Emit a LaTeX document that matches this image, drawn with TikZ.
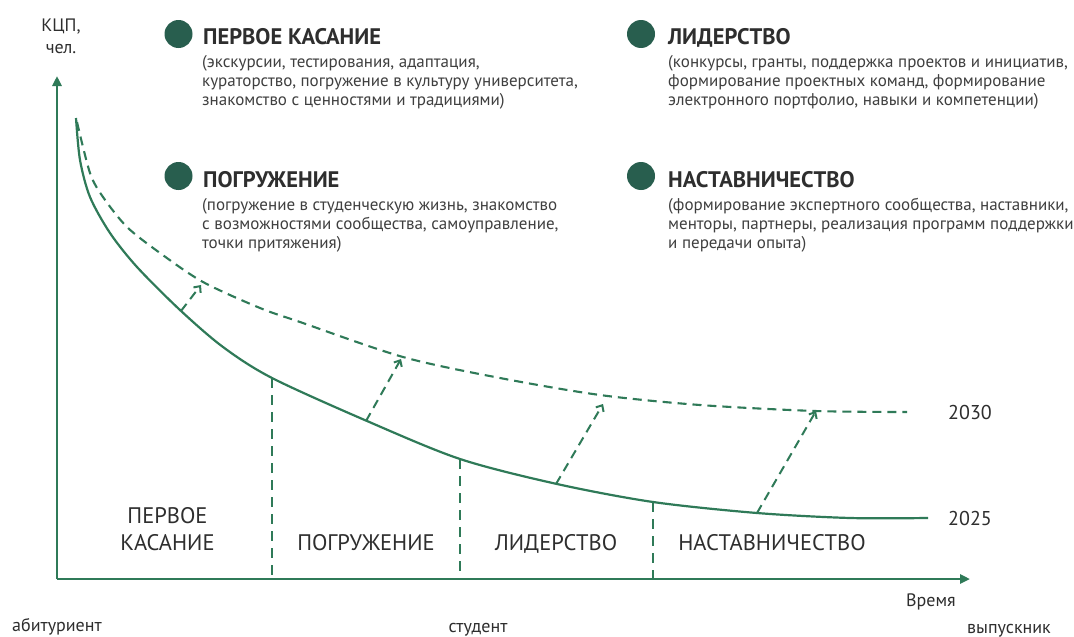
\documentclass[tikz,border=0pt]{standalone}
\usepackage{fontspec}
\setmainfont{PT Sans}
\usetikzlibrary{arrows.meta}
\definecolor{curvegreen}{HTML}{2F7A58}
\definecolor{bulletgreen}{HTML}{285E4E}
\definecolor{txt}{HTML}{2E2E2E}
\definecolor{bodytxt}{HTML}{3F3F3F}
\tikzset{
  axisline/.style={curvegreen, line width=2.6pt, -{Triangle[length=10pt,width=9pt]}},
  solidcurve/.style={curvegreen, line width=2.2pt},
  dashcurve/.style={curvegreen, line width=2.1pt, dash pattern=on 9pt off 6pt},
  divider/.style={curvegreen, line width=1.8pt, dash pattern=on 10pt off 7pt},
  liftarrow/.style={curvegreen, line width=2pt, dash pattern=on 9pt off 6pt, -{Straight Barb[length=5pt,width=9pt]}},
  bullet/.style={circle, fill=bulletgreen, minimum size=28pt, inner sep=0pt},
  titletxt/.style={anchor=base west, inner sep=0pt, font=\bfseries\fontsize{22.5}{22.5}\selectfont, text=txt},
  bodyblock/.style={anchor=base west, inner sep=0pt, align=left, font=\fontsize{17}{19}\selectfont, text=bodytxt},
  phase/.style={anchor=base, inner sep=0pt, align=center, font=\fontsize{22.5}{27}\selectfont, text=txt},
  yeartxt/.style={inner sep=0pt, font=\fontsize{20}{20}\selectfont, text=txt},
  smalltxt/.style={anchor=base, inner sep=0pt, align=center, font=\fontsize{18}{22}\selectfont, text=txt},
}
\begin{document}
\begin{tikzpicture}[x=1pt, y=-1pt]
\useasboundingbox[fill=white] (0,0) rectangle (1074,637);

% axes
\coordinate (O) at (57,579);
\coordinate (Ytop) at (57,76);
\coordinate (Xend) at (970,579);
\draw[axisline] (O) -- (Ytop);
\draw[axisline] (O) -- (Xend);

% curves
\draw[solidcurve] plot[smooth, tension=0.5] coordinates {(76,118) (80,160) (90,197) (110,233) (137,267) (180,310) (223,347) (272,378) (367,421) (460,459) (557,484) (653,502) (757,513) (850,518) (928,518)};
\draw[dashcurve] plot[smooth, tension=0.5] coordinates {(77,122) (90,173) (103,197) (127,227) (160,253) (203,282) (260,308) (300,322) (403,357) (500,378) (600,395) (700,405) (815,411) (907,412)};

% points on the curves
\coordinate (s1) at (181,311);
\coordinate (d1) at (201,285);
\coordinate (s2) at (366,421);
\coordinate (d2) at (401,359);
\coordinate (s3) at (556,484);
\coordinate (d3) at (603,404);
\coordinate (s4) at (757,513);
\coordinate (d4) at (816,411);
\draw[liftarrow] (s1) -- (d1);
\draw[liftarrow] (s2) -- (d2);
\draw[liftarrow] (s3) -- (d3);
\draw[liftarrow] (s4) -- (d4);

% dividers
\coordinate (v1t) at (272,378);
\coordinate (v1b) at (272,579);
\coordinate (v2t) at (460,459);
\coordinate (v2b) at (460,579);
\coordinate (v3t) at (653,502);
\coordinate (v3b) at (653,579);
\draw[divider] (v1t) -- (v1b);
\draw[divider] (v2t) -- (v2b);
\draw[divider] (v3t) -- (v3b);

% axis labels
\node[smalltxt] (kcp) at (61,53) {КЦП,\\чел.};
\node[smalltxt] (time) at (931,606) {Время};
\node[smalltxt] (abit) at (57,631) {абитуриент};
\node[smalltxt] (stud) at (478,632) {студент};
\node[smalltxt] (grad) at (1009,633) {выпускник};
\node[yeartxt] (y2030) at (970,412) {2030};
\node[yeartxt] (y2025) at (970,518) {2025};

% phase labels
\node[phase] (p1) at (167.5,550) {ПЕРВОЕ\\КАСАНИЕ};
\node[phase] (p2) at (366,550) {ПОГРУЖЕНИЕ};
\node[phase] (p3) at (556,550) {ЛИДЕРСТВО};
\node[phase] (p4) at (772,550) {НАСТАВНИЧЕСТВО};

% legend
\node[bullet] (b1) at (178.5,34) {};
\node[titletxt] (t1) at (203,44) {ПЕРВОЕ КАСАНИЕ};
\node[bodyblock] (d1txt) at (202,105) {(экскурсии, тестирования, адаптация,\\кураторство, погружение в культуру университета,\\знакомство с ценностями и традициями)};

\node[bullet] (b2) at (178.5,176) {};
\node[titletxt] (t2) at (203,187) {ПОГРУЖЕНИЕ};
\node[bodyblock] (d2txt) at (202,248) {(погружение в студенческую жизнь, знакомство\\с возможностями сообщества, самоуправление,\\точки притяжения)};

\node[bullet] (b3) at (641,34) {};
\node[titletxt] (t3) at (668,44) {ЛИДЕРСТВО};
\node[bodyblock] (d3txt) at (668,105) {(конкурсы, гранты, поддержка проектов и инициатив,\\формирование проектных команд, формирование\\электронного портфолио, навыки и компетенции)};

\node[bullet] (b4) at (641,176) {};
\node[titletxt] (t4) at (668,187) {НАСТАВНИЧЕСТВО};
\node[bodyblock] (d4txt) at (668,248) {(формирование экспертного сообщества, наставники,\\менторы, партнеры, реализация программ поддержки\\и передачи опыта)};
\end{tikzpicture}
\end{document}
